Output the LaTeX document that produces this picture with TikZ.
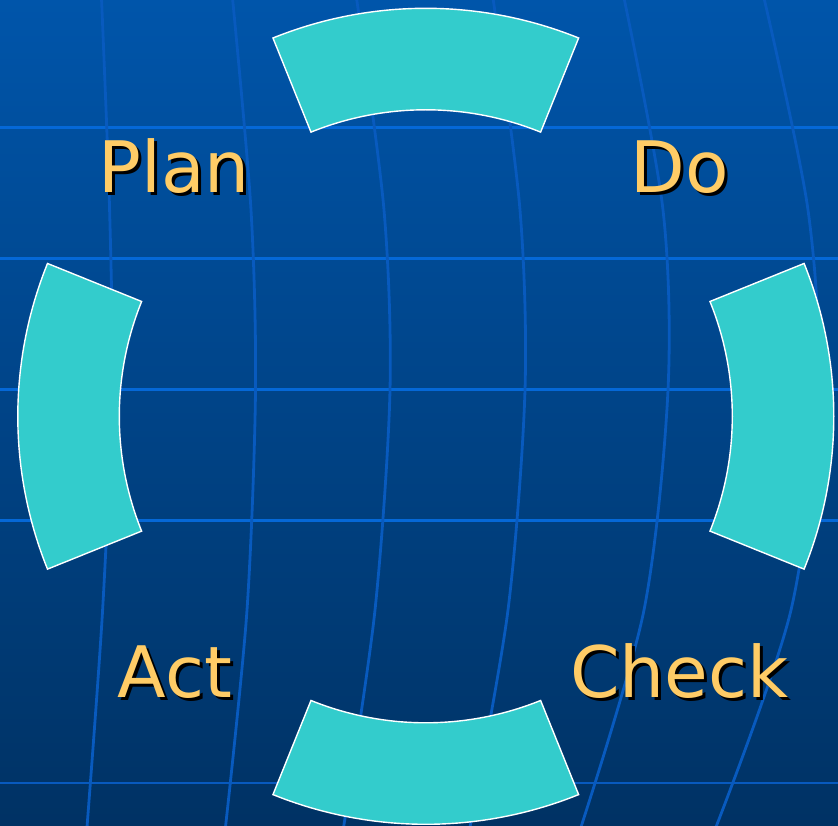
\documentclass[tikz,border=0pt]{standalone}
\usepackage{fontspec}
\setmainfont{DejaVu Sans}
\usetikzlibrary{calc}
\definecolor{bgtop}{RGB}{0,85,170}
\definecolor{bgbot}{RGB}{0,50,100}
\definecolor{hline}{RGB}{5,104,215}
\definecolor{vline}{RGB}{8,90,190}
\definecolor{segfill}{RGB}{51,204,204}
\definecolor{labelcol}{RGB}{255,204,102}
\newcommand\shtext[1]{\makebox[0pt][l]{\hspace{3pt}\raisebox{-3pt}{\color{black}#1}}#1}
\tikzset{
  hgrid/.style={draw=hline, line width=3pt},
  hgriddim/.style={draw=vline, line width=2.6pt},
  vgrid/.style={draw=vline, line width=2.8pt},
  segment/.style={fill=segfill, draw=white, line width=1.4pt, line join=miter},
  lbl/.style={text=labelcol, font=\fontsize{71}{71}\selectfont, inner sep=0pt, anchor=base},
}
\begin{document}
\begin{tikzpicture}[x=1pt,y=1pt]
\useasboundingbox (0,0) rectangle (838,825);
\shade[top color=bgtop, bottom color=bgbot] (0,0) rectangle (838,825);
\begin{scope}[shift={(0,825)}, y=-1pt]
  % horizontal grid lines
  \foreach \yy in {128,259,390,521} \draw[hgrid] (0,\yy) -- (838,\yy);
  \draw[hgriddim] (0,783) -- (838,783);
  % curved vertical grid lines
  \draw[vgrid] plot[smooth] coordinates {(101.5,-2) (109.6,210) (112,390) (102.6,610) (87,827)};
  \draw[vgrid] plot[smooth] coordinates {(232.5,-2) (251,210) (255.5,390) (247,610) (225.5,827)};
  \draw[vgrid] plot[smooth] coordinates {(356.5,-2) (384,210) (390,390) (375,610) (343.6,827)};
  \draw[vgrid] plot[smooth] coordinates {(493,-2) (520,210) (525,390) (508,610) (470,827)};
  \draw[vgrid] plot[smooth] coordinates {(624,-2) (663,210) (668,390) (644,610) (581,827)};
  \draw[vgrid] plot[smooth] coordinates {(764,-2) (808,210) (818,390) (791,610) (716,827)};
  \coordinate (C) at (425.8,416.3);
\end{scope}
% four annular segments (y-up frame)
\foreach \a in {0,90,180,270} {
  \draw[segment] ($(C)+(\a-22:408)$) arc[start angle=\a-22, end angle=\a+22, radius=408]
    -- ($(C)+(\a+22:306.5)$) arc[start angle=\a+22, end angle=\a-22, radius=306.5] -- cycle;
}
\begin{scope}[shift={(0,825)}, y=-1pt]
  \node[lbl] (plan) at (174,193) {\shtext{Plan}};
  \node[lbl] (do) at (680,193) {\shtext{Do}};
  \node[lbl] (act) at (175,697) {\shtext{Act}};
  \node[lbl] (check) at (679.5,697) {\shtext{Check}};
\end{scope}
\end{tikzpicture}
\end{document}
